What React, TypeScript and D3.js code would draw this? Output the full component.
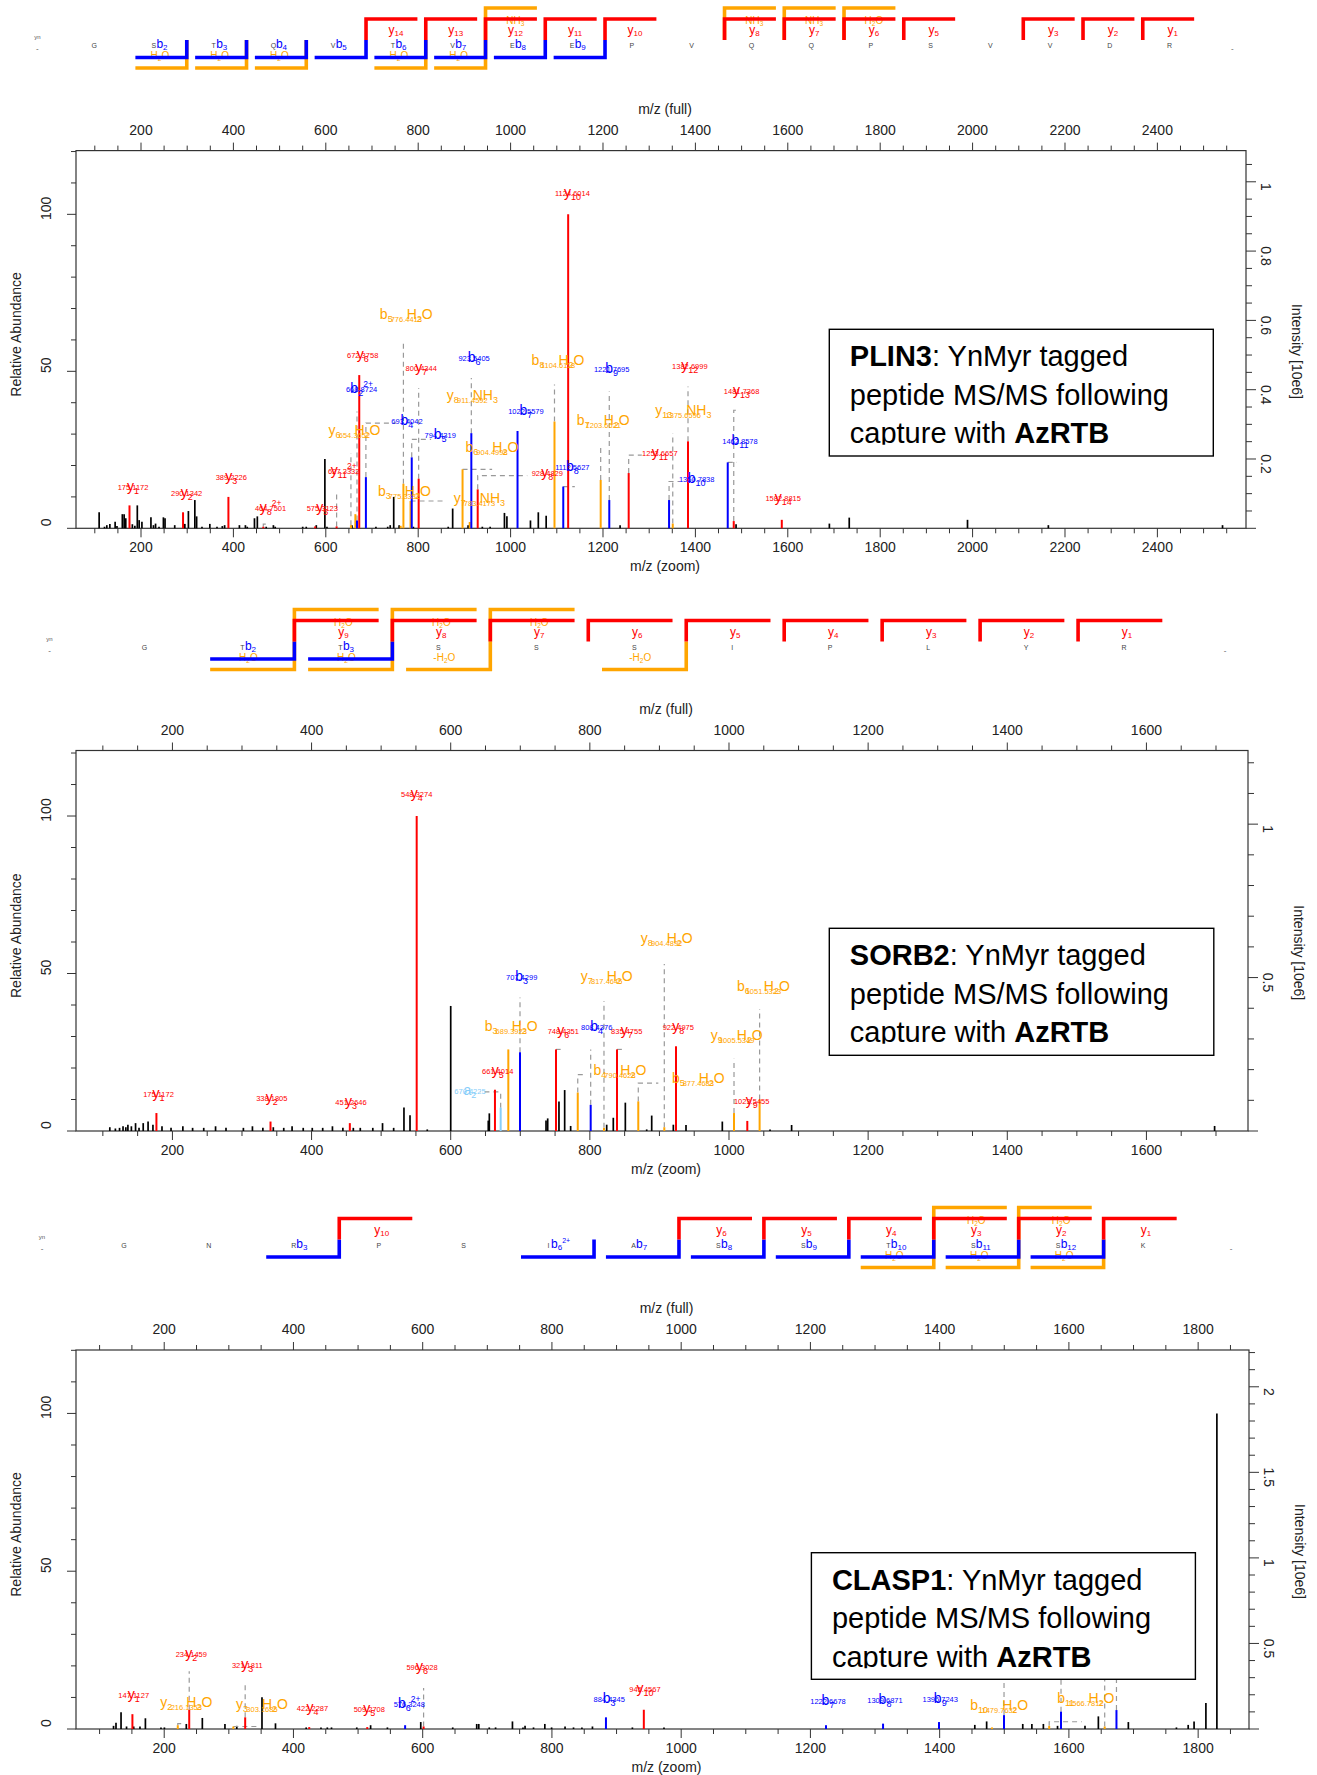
import React from 'react';
import * as d3 from 'd3';

const FONT = "'Liberation Sans', Arial, Helvetica, sans-serif";
const RED = '#ff0000';
const BLUE = '#0000ff';
const ORANGE = '#ffa500';
const LBLUE = '#87cefa';
const TYPE_COLOR: Record<string, string> = { y: RED, b: BLUE, a: LBLUE, yH2O: ORANGE, yNH3: ORANGE, bH2O: ORANGE };

// ---------------- shared tick labels ----------------
const relLabels = [0, 50, 100];

// ---------------- PLIN3 ----------------
const p1Gene = 'PLIN3';
const p1Sequence = ['G', 'S', 'T', 'Q', 'V', 'T', 'V', 'E', 'E', 'P', 'V', 'Q', 'Q', 'P', 'S', 'V', 'V', 'D', 'R'];
const p1BIons: [number, string][] = [[2, ''], [3, ''], [4, ''], [5, ''], [6, ''], [7, ''], [8, ''], [9, '']];
const p1BLoss: [number, string][] = [[2, 'H2O'], [3, 'H2O'], [4, 'H2O'], [6, 'H2O'], [7, 'H2O']];
const p1YIons = [14, 13, 12, 11, 10, 8, 7, 6, 5, 3, 2, 1];
const p1YLoss: [number, string][] = [[12, 'NH3'], [8, 'NH3'], [7, 'NH3'], [6, 'H2O']];
const p1MzLabels = [200, 400, 600, 800, 1000, 1200, 1400, 1600, 1800, 2000, 2200, 2400];
const p1IntLabels = [0.2, 0.4, 0.6, 0.8, 1];
const p1Peaks = [
  [109.4, 5.1], [121, 0.5], [126, 1.0], [132.6, 1.4], [144, 2.1], [148, 0.7], [159.6, 4.5], [163.5, 4.5], [167, 3.2],
  [181.3, 1.3], [186.7, 0.8], [192, 7.3], [196, 2.6], [202, 2.1], [221.5, 3.5], [227, 1], [231.5, 1.5], [239, 0.5],
  [248.5, 3.5], [252, 3.2], [273, 1], [294.9, 1.4], [302.6, 5.5], [316.5, 9], [320.4, 3.8], [332, 0.5], [349, 1.4],
  [364.5, 0.5], [376, 0.7], [381, 1], [413, 1], [426, 1], [430, 0.5], [445.6, 3.2], [451.8, 3.8], [471, 0.5],
  [486.6, 1], [490.5, 0.5], [550, 0.5], [557.7, 0.5], [579.4, 1], [598, 22.1], [602.5, 0.5], [656.7, 1], [708.5, 0.5],
  [734, 0.5], [739.4, 1], [747, 10], [758.7, 1], [789.6, 0.5], [865, 0.5], [874.6, 6.3], [908, 1], [938.8, 0.5],
  [955.7, 0.5], [986.7, 4.9], [992, 3.8], [1043, 2.5], [1060, 5.1], [1077, 4], [1237, 1], [1488, 1.3], [1690, 1.5],
  [1733, 3.4], [1989, 2.7], [2164, 1], [2541, 1],
];
// [type, index, charge, mass text, peak m/z, peak rel, label m/z, label rel, connector]
const p1Ions: any[] = [
  ['y', 1, '', '175.1172', 175.1, 7.3, 182.8, 13.6, null],
  ['y', 2, '', '290.1342', 291, 5.1, 298.8, 11.5, null],
  ['y', 3, '', '389.2226', 389.2, 10, 395.4, 16.7, null],
  ['y', 8, '2+', '464.7501', 464.7, 0.5, 480.4, 6.9, [[464.7, 0.5], [464.7, 1.3], [473, 1.3]]],
  ['y', 5, '', '575.3123', 577, 0.6, 592.5, 6.9, null],
  ['y', 11, '2+', '627.3332', 623.4, 0.6, 638.9, 18.6, [[623.4, 0.6], [623.4, 12]]],
  ['yH2O', 6, '', '654.3652', 654.4, 1, 662, 31.2, [[654.4, 1], [654.4, 24]]],
  ['bH2O', 0, '', '', 664, 4.5, 0, 0, null],
  ['b', 2, '2+', '668.8724', 667.5, 2.5, 677.5, 44.7, [[667.5, 2.5], [667.5, 37.2]]],
  ['y', 6, '', '672.3758', 672.4, 48.8, 679.8, 55.4, null],
  ['b', 4, '', '693.4042', 686.8, 16.3, 775.7, 34.6, [[686.8, 16.3], [686.8, 33.5], [752, 33.5]]],
  ['bH2O', 3, '', '775.3332', 762, 0.8, 770.3, 12, null],
  ['bH2O', 5, '', '776.4413', 768, 14.2, 774.2, 68.1, [[768, 14.2], [768, 59.8]]],
  ['yNH3', 7, '', '783.4173', 783.4, 8.7, 932.6, 9.6, [[783.4, 8.7], [855, 8.7]]],
  ['b', 5, '', '794.4319', 786, 22.6, 847.6, 29.9, [[786, 22.6], [786, 28.3], [828, 28.3]]],
  ['y', 7, '', '800.4344', 801, 15.8, 806.6, 51.3, [[801, 15.8], [801, 44.7]]],
  ['bH2O', 6, '', '904.4998', 896, 18.8, 959.7, 26, [[896, 18.8], [960, 18.8]]],
  ['yNH3', 8, '', '911.4592', 911.5, 2, 917.2, 42.6, null],
  ['b', 6, '', '923.5405', 915, 30.3, 921, 54.6, [[915, 30.3], [915, 47.9]]],
  ['y', 8, '', '928.4829', 928.8, 12.4, 1079.5, 17.8, [[928.8, 12.4], [928.8, 16.8], [1036, 16.8]]],
  ['b', 7, '', '1022.5579', 1015, 31, 1033.2, 37.8, null],
  ['bH2O', 8, '', '1104.6118', 1095, 34, 1102.7, 53.5, [[1095, 34], [1095, 45.8]]],
  ['b', 8, '', '1112.5627', 1114, 13.3, 1133.6, 19.7, [[1114, 13.3], [1139, 13.3]]],
  ['y', 10, '', '1124.6014', 1124.6, 100, 1133.8, 107, null],
  ['bH2O', 7, '', '1203.6621', 1195, 15.4, 1200.6, 34.6, [[1195, 15.4], [1195, 26.6]]],
  ['b', 9, '', '1221.7695', 1213.6, 9, 1218.8, 51.1, [[1213.6, 9], [1213.6, 43.6]]],
  ['y', 11, '', '1253.6657', 1255.6, 17.6, 1323, 24.2, [[1255.6, 17.6], [1255.6, 23.3], [1284, 23.3]]],
  ['b', 10, '', '1350.7838', 1343, 9, 1402.8, 16, [[1343, 9], [1343, 14.9], [1367, 14.9]]],
  ['yNH3', 13, '', '1375.6596', 1351, 1.5, 1373.8, 37.8, [[1351, 1.5], [1351, 30.3]]],
  ['y', 12, '', '1382.6999', 1384, 27.7, 1388, 52, [[1384, 27.7], [1384, 45.2]]],
  ['b', 11, '', '1462.8578', 1470, 21, 1496.5, 28.2, [[1470, 21], [1490, 21]]],
  ['y', 13, '', '1481.7368', 1483, 2.3, 1500, 44, [[1483, 2.3], [1483, 37.6], [1493, 37.6]]],
  ['y', 14, '', '1582.8815', 1587, 2.7, 1590, 10, null],
];

// ---------------- SORB2 ----------------
const p2Gene = 'SORB2';
const p2Sequence = ['G', 'T', 'T', 'S', 'S', 'S', 'I', 'P', 'L', 'Y', 'R'];
const p2BIons: [number, string][] = [[2, ''], [3, '']];
const p2BLoss: [number, string][] = [[2, 'H2O'], [3, 'H2O'], [4, '-H2O'], [6, '-H2O']];
const p2YIons = [9, 8, 7, 6, 5, 4, 3, 2, 1];
const p2YLoss: [number, string][] = [[9, 'H2O'], [8, 'H2O'], [7, 'H2O']];
const p2MzLabels = [200, 400, 600, 800, 1000, 1200, 1400, 1600];
const p2IntLabels = [0.5, 1];
const p2Peaks = [
  [110, 1.2], [118, 0.8], [124, 1], [129, 1.5], [133, 1.2], [136, 2], [141, 1.5], [147, 2.5], [152, 1], [158, 2.5],
  [165, 3], [172, 2], [185, 1.5], [198, 1], [215, 1.5], [229, 1], [245, 1], [262, 1.5], [277, 1], [302, 1], [315, 1.5],
  [330, 1], [345, 1.2], [360, 1], [372, 1.5], [388, 1], [401, 1], [416, 1], [430, 1.5], [445, 1], [460, 1], [470, 1],
  [488, 1], [502, 2.5], [518, 1], [532.8, 7.5], [541.5, 5], [566.3, 0.5], [600, 39.7], [654, 3.3], [655.5, 5.6],
  [737, 3.3], [739.4, 4], [755.6, 9.4], [763.8, 13], [772.4, 1.6], [824.2, 2], [833.7, 4.2], [851, 9], [881.7, 0.5],
  [888.9, 4.9], [920, 2], [938.2, 1.9], [990.4, 3], [1059, 0.5], [1090, 1.9], [1698, 1.6],
];
const p2Ions: any[] = [
  ['y', 1, '', '175.1172', 177, 5.7, 180, 12, null],
  ['y', 2, '', '338.1805', 341, 3, 342.8, 10.7, null],
  ['y', 3, '', '451.2646', 455, 2.5, 456.7, 9.6, null],
  ['y', 4, '', '548.3274', 551.1, 100, 551.1, 107.3, null],
  ['y', 5, '', '661.4014', 663.6, 13.1, 667.5, 19.5, null],
  ['a', 2, '', '670.4225', 671.8, 7.4, 627.7, 13.1, [[671.8, 7.4], [671.8, 12.4], [642, 12.4]]],
  ['bH2O', 3, '', '689.3923', 682.8, 25.9, 687, 33.3, null],
  ['b', 3, '', '707.4299', 699.6, 25, 702, 49.3, [[699.6, 25], [699.6, 42.4]]],
  ['y', 6, '', '748.4351', 751.3, 25.9, 761.8, 32, [[751.3, 25.9], [758, 25.9]]],
  ['bH2O', 4, '', '790.4628', 782.6, 12.2, 843.3, 19.5, [[782.6, 12.2], [782.6, 17.9], [790, 17.9]]],
  ['b', 4, '', '808.4376', 801.2, 8.3, 809.8, 33.3, [[801.2, 8.3], [801.2, 25.9]]],
  ['yH2O', 7, '', '817.4645', 820.3, 1, 824.2, 49.1, [[820.3, 1], [820.3, 41.3]]],
  ['y', 7, '', '835.4755', 839, 25.9, 853, 32, [[839, 25.9], [846, 25.9]]],
  ['bH2O', 5, '', '877.4683', 869.6, 9.4, 955.9, 16.8, [[869.6, 9.4], [869.6, 15.2], [898.4, 15.2]]],
  ['yH2O', 8, '', '904.4892', 907, 1.2, 910.4, 61.2, [[907, 1.2], [907, 53]]],
  ['y', 8, '', '922.4975', 923.8, 26.9, 927.1, 33.3, null],
  ['yH2O', 9, '', '1005.5349', 1007.2, 5.7, 1011, 30.4, [[1007.2, 5.7], [1007.2, 22.9]]],
  ['y', 9, '', '1023.5455', 1026.3, 3.2, 1032.6, 10, null],
  ['bH2O', 6, '', '1051.5323', 1044, 10, 1049.4, 45.9, [[1044, 10], [1044, 38.7]]],
];

// ---------------- CLASP1 ----------------
const p3Gene = 'CLASP1';
const p3Sequence = ['G', 'N', 'R', 'P', 'S', 'I', 'A', 'S', 'S', 'T', 'S', 'S', 'K'];
const p3BIons: [number, string][] = [[3, ''], [6, '2+'], [7, ''], [8, ''], [9, ''], [10, ''], [11, ''], [12, '']];
const p3BLoss: [number, string][] = [[10, 'H2O'], [11, 'H2O'], [12, 'H2O']];
const p3YIons = [10, 6, 5, 4, 3, 2, 1];
const p3YLoss: [number, string][] = [[3, 'H2O'], [2, 'H2O']];
const p3MzLabels = [200, 400, 600, 800, 1000, 1200, 1400, 1600, 1800];
const p3IntLabels = [0.5, 1, 1.5, 2];
const p3Peaks = [
  [121.6, 1], [125.4, 2], [133.2, 5.3], [141.7, 0.8], [152.8, 0.8], [162.5, 0.8], [170.9, 3.4], [195, 0.5], [200.3, 0.5],
  [234.2, 1.6], [259, 3.5], [294, 1.6], [312.3, 1], [351.3, 10.1], [372.2, 1.8], [419.7, 0.5], [442.6, 0.5], [452.4, 0.5],
  [458.9, 0.5], [498, 0.5], [519.4, 1.2], [545.4, 0.5], [597, 2.2], [646.5, 0.5], [683.6, 1.6], [686.8, 1.6], [703, 0.5],
  [712.8, 0.5], [738.9, 2.4], [755.2, 0.5], [758.4, 1], [771.5, 0.5], [789, 1.6], [799.5, 0.5], [820.3, 0.8], [833.4, 0.5],
  [846.4, 0.5], [862.7, 0.8], [924.5, 0.5], [973.4, 0.5], [1454.4, 1.3], [1472.7, 2.4], [1528.6, 1.6], [1542.7, 1.6],
  [1560.5, 1.6], [1582.4, 1], [1624.9, 1], [1645.6, 4], [1692, 2.2], [1766.4, 0.5], [1784.6, 1.3], [1793.7, 2.4],
  [1812, 8.2], [1829, 100],
];
const p3Ions: any[] = [
  ['y', 1, '', '147.1127', 150.8, 4.7, 152.8, 11.2, null],
  ['yH2O', 2, '', '216.1353', 221, 1.2, 234.2, 8.7, [[221, 1.2], [221, 1.7], [229, 1.7]]],
  ['y', 2, '', '234.1459', 238.7, 6.1, 241.9, 24.2, [[238.7, 6.1], [238.7, 18.3]]],
  ['yH2O', 3, '', '303.1685', 307, 0.8, 351.3, 8, [[307, 0.8], [345, 0.8]]],
  ['y', 3, '', '321.1811', 325.3, 3.7, 328.6, 20.6, [[325.3, 3.7], [325.3, 15.1]]],
  ['y', 4, '', '422.2287', 424.4, 0.6, 429.5, 7, null],
  ['y', 5, '', '509.2708', 514.2, 0.6, 517.4, 6.6, null],
  ['b', 6, '2+', '576.3248', 572.8, 1.2, 579.3, 8.2, null],
  ['y', 6, '', '596.3028', 601.4, 0.8, 599, 19.9, [[601.4, 0.8], [601.4, 13]]],
  ['b', 3, '', '884.4345', 883.6, 3.7, 888.6, 9.8, null],
  ['y', 10, '', '945.4567', 942.2, 6.1, 944, 13, null],
  ['b', 7, '', '1222.6678', 1224.1, 1.2, 1227.2, 9.3, null],
  ['b', 8, '', '1309.6871', 1312.4, 1.7, 1315.4, 9.4, null],
  ['b', 9, '', '1396.7243', 1399, 2.2, 1400.9, 9.8, null],
  ['bH2O', 10, '', '1479.7632', 1481, 0.5, 1492.2, 7.7, null],
  ['b', 10, '', '1497.7738', 1499.6, 4.4, 1499.6, 20, [[1499.6, 4.4], [1499.6, 15.7]]],
  ['bH2O', 11, '', '1566.7812', 1569.5, 1, 1626.2, 9.8, [[1569.5, 1], [1569.5, 2.3], [1620, 2.3]]],
  ['b', 11, '', '1584.7918', 1587.8, 5.5, 1587.8, 20, [[1587.8, 5.5], [1587.8, 15.7]]],
  ['bH2O', 12, '', '1653.8238', 1655.4, 0.8, 1655.4, 20, [[1655.4, 0.8], [1655.4, 15.7]]],
  ['b', 12, '', '1671.8344', 1673.6, 6, 1673.6, 20, [[1673.6, 6], [1673.6, 15.7]]],
];

// ---------------- layout (positions / styles) ----------------
const PANELS = [
  {
    id: 'p1', gene: p1Gene, seq: p1Sequence, bIons: p1BIons, bLoss: p1BLoss, yIons: p1YIons, yLoss: p1YLoss,
    mzLabels: p1MzLabels, intLabels: p1IntLabels, peaks: p1Peaks, ions: p1Ions,
    g: { top: 150.6, bottom: 528.3, left: 76, right: 1246, mz: [59.3, 2591.8], relMax: 120.3, intMax: 1.09, intStep: 0.05, intMajor: 0.2,
      rowC: 40, seqX0: 37.4, seqSp: 59.75, box: [829.3, 329.3, 384, 126.7] },
  },
  {
    id: 'p2', gene: p2Gene, seq: p2Sequence, bIons: p2BIons, bLoss: p2BLoss, yIons: p2YIons, yLoss: p2YLoss,
    mzLabels: p2MzLabels, intLabels: p2IntLabels, peaks: p2Peaks, ions: p2Ions,
    g: { top: 750.5, bottom: 1131, left: 76, right: 1248, mz: [61.4, 1746], relMax: 120.8, intMax: 1.24, intStep: 0.1, intMajor: 0.5,
      rowC: 641.5, seqX0: 49.5, seqSp: 97.96, box: [829.3, 928.3, 384.5, 127] },
  },
  {
    id: 'p3', gene: p3Gene, seq: p3Sequence, bIons: p3BIons, bLoss: p3BLoss, yIons: p3YIons, yLoss: p3YLoss,
    mzLabels: p3MzLabels, intLabels: p3IntLabels, peaks: p3Peaks, ions: p3Ions,
    g: { top: 1350, bottom: 1729, left: 76, right: 1249, mz: [63.5, 1878.7], relMax: 120.1, intMax: 2.215, intStep: 0.1, intMajor: 0.5,
      rowC: 1239.5, seqX0: 42, seqSp: 84.93, box: [811.4, 1552.7, 384, 126.6] },
  },
];

function SubText({ x, y, text, size, color, anchor = 'middle' }: any) {
  const parts = String(text).split(/(\d)/).filter((s: string) => s);
  let cur = 0;
  return (
    <text x={x} y={y} textAnchor={anchor} fill={color} fontSize={size}>
      {parts.map((s: string, i: number) => {
        const sub = /\d/.test(s);
        const target = sub ? 2 : 0;
        const dy = target - cur;
        cur = target;
        return <tspan key={i} fontSize={sub ? size * 0.65 : size} dy={dy}>{s}</tspan>;
      })}
    </text>
  );
}

function RowIon({ x, y, letter, idx, charge, color, anchor = 'middle' }: any) {
  return (
    <text x={x} y={y} textAnchor={anchor} fill={color}>
      <tspan fontSize={12}>{letter}</tspan>
      <tspan fontSize={8} dy={2}>{idx}</tspan>
      {charge ? <tspan fontSize={7} dy={-7}>{charge}</tspan> : null}
    </text>
  );
}

function SeqRow({ p }: any) {
  const g = p.g;
  const seq: string[] = p.seq;
  const N = seq.length;
  const px = d3.scaleLinear().domain([0, N + 1]).range([g.seqX0, g.seqX0 + (N + 1) * g.seqSp]);
  const c = g.rowC;
  const sp = g.seqSp;
  const len = sp * 0.86;
  const bnd = (k: number) => px(k) + sp / 2;
  const SW = 3.6;
  return (
    <g>
      <text x={px(0)} y={c - 1} textAnchor="middle" fontSize={6} fill="#555">yn</text>
      <text x={px(0)} y={c + 11} textAnchor="middle" fontSize={8} fill="#555">-</text>
      <text x={px(N + 1)} y={c + 11} textAnchor="middle" fontSize={8} fill="#555">-</text>
      {seq.map((r, i) => (
        <text key={i} x={px(i + 1) - 3} y={c + 8} textAnchor="middle" fontSize={7} fill="#444">{r}</text>
      ))}
      {p.bLoss.map(([n, t]: any, i: number) => (
        <SubText key={'bl' + i} x={px(n) + 3} y={c + 19} text={t} size={10} color={ORANGE} />
      ))}
      {p.yLoss.map(([m, t]: any, i: number) => (
        <SubText key={'yl' + i} x={px(N - m + 1)} y={c - 16} text={t} size={10} color={ORANGE} />
      ))}
      {p.bLoss.map(([n]: any, i: number) => (
        <path key={'blp' + i} d={`M${bnd(n) - len},${c + 28}H${bnd(n)}V${c}`} fill="none" stroke={ORANGE} strokeWidth={SW} />
      ))}
      {p.yLoss.map(([m]: any, i: number) => (
        <path key={'ylp' + i} d={`M${bnd(N - m) + len},${c - 32}H${bnd(N - m)}V${c}`} fill="none" stroke={ORANGE} strokeWidth={SW} />
      ))}
      {p.bIons.map(([n]: any, i: number) => (
        <path key={'bp' + i} d={`M${bnd(n) - len},${c + 17.5}H${bnd(n)}V${c}`} fill="none" stroke={BLUE} strokeWidth={SW} />
      ))}
      {p.yIons.map((m: number, i: number) => (
        <path key={'yp' + i} d={`M${bnd(N - m) + len},${c - 21}H${bnd(N - m)}V${c}`} fill="none" stroke={RED} strokeWidth={SW} />
      ))}
      {p.bIons.map(([n, ch]: any, i: number) => (
        <RowIon key={'bt' + i} x={px(n) - 0.5} y={c + 8} letter="b" idx={n} charge={ch} color={BLUE} anchor="start" />
      ))}
      {p.yIons.map((m: number, i: number) => (
        <RowIon key={'yt' + i} x={px(N - m + 1)} y={c - 6} letter="y" idx={m} charge="" color={RED} />
      ))}
    </g>
  );
}

function IonLabel({ x, yc, type, idx, charge, mass }: any) {
  const color = TYPE_COLOR[type];
  const letter = type.charAt(0);
  const loss = type === 'yNH3' ? 'NH3' : type.length > 1 ? 'H2O' : '';
  const base = yc + 5;
  const segs: [string, number, number][] = [];
  segs.push([letter, 14, 0]);
  segs.push([String(idx), 9, 3]);
  if (charge) segs.push([charge, 8.5, -6]);
  if (loss) {
    segs.push(['\u2002\u2002', 14, 0]);
    loss.split(/(\d)/).filter(Boolean).forEach((s) => segs.push([s, /\d/.test(s) ? 9 : 14, /\d/.test(s) ? 3 : 0]));
  }
  let cur = 0;
  return (
    <g>
      <text x={x} y={base} textAnchor="middle" fill={color}>
        {segs.map((s, i) => {
          const dy = s[2] - cur;
          cur = s[2];
          return <tspan key={i} fontSize={s[1]} dy={dy}>{s[0]}</tspan>;
        })}
      </text>
      <text x={x} y={loss ? base + 3 : base - 1} textAnchor="middle" fontSize={7.5} fill={color}>{mass}</text>
    </g>
  );
}

function Panel({ p }: any) {
  const g = p.g;
  const x = d3.scaleLinear().domain(g.mz).range([g.left, g.right]);
  const y = d3.scaleLinear().domain([0, g.relMax]).range([g.bottom, g.top]);
  const yi = d3.scaleLinear().domain([0, g.intMax]).range([g.bottom, g.top]);
  const conn = d3.line<number[]>().x((d) => x(d[0])).y((d) => y(d[1]));
  const xTicks = d3.range(Math.ceil(g.mz[0] / 50) * 50, g.mz[1], 50);
  const relTicks = d3.range(0, g.relMax, 10);
  const nInt = Math.floor(g.intMax / g.intStep + 1e-6);
  const intTicks = d3.range(0, nInt + 1).map((i) => +(i * g.intStep).toFixed(3));
  const isMajorInt = (v: number) => Math.abs(v / g.intMajor - Math.round(v / g.intMajor)) < 1e-6;
  const cx = (g.left + g.right) / 2 + 4;
  const cy = (g.top + g.bottom) / 2;
  const AX = '#333';
  const [bx, by, bw, bh] = g.box;
  return (
    <g>
      <SeqRow p={p} />
      <rect x={g.left} y={g.top} width={g.right - g.left} height={g.bottom - g.top} fill="none" stroke={AX} strokeWidth={1.2} />
      {xTicks.map((v) => {
        const major = v % 200 === 0;
        return (
          <g key={'xt' + v}>
            <line x1={x(v)} x2={x(v)} y1={g.top} y2={g.top - (major ? 8 : 5)} stroke={AX} strokeWidth={1} />
            <line x1={x(v)} x2={x(v)} y1={g.bottom} y2={g.bottom + (major ? 9 : 5)} stroke={AX} strokeWidth={1} />
          </g>
        );
      })}
      {p.mzLabels.map((v: number) => (
        <g key={'xl' + v} fontSize={14} fill="#222">
          <text x={x(v)} y={g.top - 16} textAnchor="middle">{v}</text>
          <text x={x(v)} y={g.bottom + 23.5} textAnchor="middle">{v}</text>
        </g>
      ))}
      <text x={cx} y={g.top - 37} textAnchor="middle" fontSize={14} fill="#222">m/z (full)</text>
      <text x={cx} y={g.bottom + 43} textAnchor="middle" fontSize={14} fill="#222">m/z (zoom)</text>
      {relTicks.map((v) => {
        const major = v % 50 === 0;
        return <line key={'lt' + v} x1={g.left} x2={g.left - (major ? 9 : 5)} y1={y(v)} y2={y(v)} stroke={AX} strokeWidth={1} />;
      })}
      {relLabels.map((v) => (
        <text key={'ll' + v} transform={`translate(${g.left - 24.6},${y(v) - 6}) rotate(-90)`} textAnchor="middle" fontSize={14} fill="#222">{v}</text>
      ))}
      <text transform={`translate(21,${cy - 5}) rotate(-90)`} textAnchor="middle" fontSize={14} fill="#222">Relative Abundance</text>
      {intTicks.map((v) => {
        const major = isMajorInt(v);
        return <line key={'rt' + v} x1={g.right} x2={g.right + (major ? 10 : 6)} y1={yi(v)} y2={yi(v)} stroke={AX} strokeWidth={1} />;
      })}
      {p.intLabels.map((v: number) => (
        <text key={'rl' + v} transform={`translate(${g.right + 15},${yi(v) + 5}) rotate(90)`} textAnchor="middle" fontSize={14} fill="#222">{String(v)}</text>
      ))}
      <text transform={`translate(${g.right + 46},${cy + 12}) rotate(90)`} textAnchor="middle" fontSize={14} fill="#222">Intensity [10e6]</text>
      {p.peaks.map((d: number[], i: number) => (
        <line key={'pk' + i} x1={x(d[0])} x2={x(d[0])} y1={y(0)} y2={y(d[1])} stroke="#000" strokeWidth={1.7} />
      ))}
      {p.ions.filter((a: any) => a[8]).map((a: any, i: number) => (
        <path key={'cn' + i} d={conn(a[8]) || ''} fill="none" stroke="#999" strokeWidth={1.2} strokeDasharray="5,4" />
      ))}
      {p.ions.map((a: any, i: number) => (
        <line key={'ip' + i} x1={x(a[4])} x2={x(a[4])} y1={y(0)} y2={y(a[5])} stroke={TYPE_COLOR[a[0]]} strokeWidth={2} />
      ))}
      {p.ions.filter((a: any) => a[3]).map((a: any, i: number) => (
        <IonLabel key={'il' + i} x={x(a[6])} yc={y(a[7])} type={a[0]} idx={a[1]} charge={a[2]} mass={a[3]} />
      ))}
      <rect x={bx} y={by} width={bw} height={bh} fill="#fff" stroke="#000" strokeWidth={1.4} />
      <clipPath id={'clip-' + p.id}>
        <rect x={bx} y={by} width={bw} height={115.5} />
      </clipPath>
      <g clipPath={`url(#clip-${p.id})`} fontSize={29} fill="#000">
        <text x={bx + 20.5} y={by + 37}><tspan fontWeight="bold">{p.gene}</tspan>: YnMyr tagged</text>
        <text x={bx + 20.5} y={by + 75.5}>peptide MS/MS following</text>
        <text x={bx + 20.5} y={by + 114}>capture with <tspan fontWeight="bold">AzRTB</tspan></text>
      </g>
    </g>
  );
}

export default function App() {
  return (
    <svg width={1317} height={1775} style={{ position: 'absolute', left: 0, top: 0 }} fontFamily={FONT}>
      <rect width={1317} height={1775} fill="#fff" />
      {PANELS.map((p) => <Panel key={p.id} p={p} />)}
    </svg>
  );
}
